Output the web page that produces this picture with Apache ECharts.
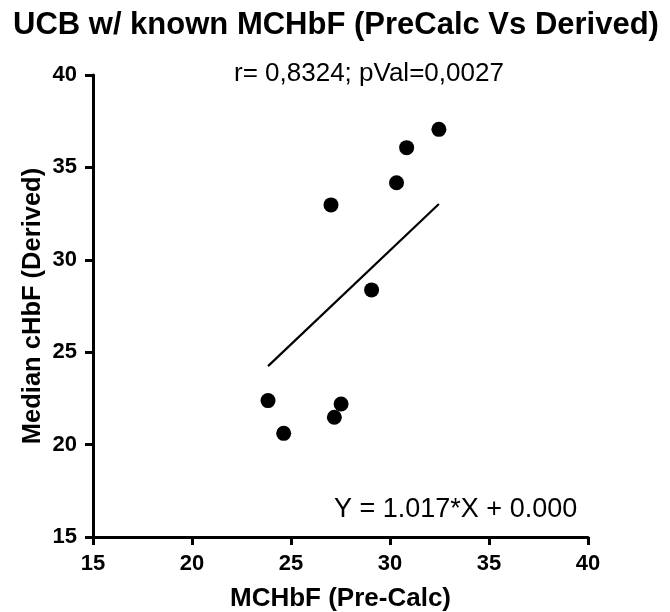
<!DOCTYPE html>
<html>
<head>
<meta charset="utf-8">
<script src="https://cdn.jsdelivr.net/npm/echarts@6/dist/echarts.min.js"></script>
<style>html,body{margin:0;padding:0;background:#fff}#c{width:670px;height:612px}</style>
</head>
<body>
<div id="c"></div>
<script>
const preCalc = [32.47, 30.84, 30.33, 27.02, 29.07, 23.84, 27.53, 27.19, 24.63];
const derived = [37.06, 36.07, 34.17, 32.97, 28.37, 22.38, 22.20, 21.48, 20.61];
const slope = 1.017;
const intercept = 0.0;
const axisTicks = [15, 20, 25, 30, 35, 40];
const titleText = 'UCB w/ known MCHbF (PreCalc Vs Derived)';
const statsText = 'r= 0,8324; pVal=0,0027';
const eqText = 'Y = 1.017*X + 0.000';
const xName = 'MCHbF (Pre-Calc)';
const yName = 'Median cHbF (Derived)';

const pts = preCalc.map((x, i) => [x, derived[i]]);
const xMin = Math.min(...preCalc), xMax = Math.max(...preCalc);
const fitLine = [[xMin, slope * xMin + intercept], [xMax, slope * xMax + intercept]];

const FONT = '"Liberation Sans", Arial, sans-serif';
const chart = echarts.init(document.getElementById('c'), null, {renderer: 'canvas'});
const axisCommon = {
  type: 'value', min: axisTicks[0], max: axisTicks[axisTicks.length - 1], interval: 5,
  splitLine: {show: false},
  axisLine: {show: true, onZero: false, lineStyle: {color: '#000', width: 3}},
  axisTick: {show: true, length: 8, lineStyle: {color: '#000', width: 3}},
  axisLabel: {color: '#000', fontWeight: 'bold', fontSize: 22, fontFamily: FONT},
  nameLocation: 'middle',
  nameMoveOverlap: false,
  nameTextStyle: {color: '#000', fontWeight: 'bold', fontSize: 26, fontFamily: FONT}
};
chart.setOption({
  animation: false,
  backgroundColor: '#fff',
  title: {
    text: titleText, left: 13, top: 10, padding: 0,
    textStyle: {color: '#000', fontWeight: 'bold', fontSize: 31, fontFamily: FONT}
  },
  grid: {left: 93, right: 82, top: 75, bottom: 75, containLabel: false, outerBoundsMode: 'none'},
  xAxis: Object.assign({}, axisCommon, {
    name: xName, nameGap: 49,
    axisLabel: Object.assign({}, axisCommon.axisLabel, {margin: 16})
  }),
  yAxis: Object.assign({}, axisCommon, {
    name: yName, nameGap: 47,
    nameTextStyle: Object.assign({}, axisCommon.nameTextStyle, {fontSize: 25.5}),
    axisLabel: Object.assign({}, axisCommon.axisLabel, {margin: 16})
  }),
  graphic: [
    {type: 'text', left: 234, top: 61, style: {text: statsText, fill: '#000', fontSize: 26, fontFamily: FONT}},
    {type: 'text', left: 334, top: 496, style: {text: eqText, fill: '#000', fontSize: 27, fontFamily: FONT}}
  ],
  series: [
    {
      type: 'line', data: fitLine, symbol: 'none', silent: true,
      lineStyle: {color: '#000', width: 2.2}, z: 2
    },
    {
      type: 'scatter', data: pts, symbol: 'circle', symbolSize: 15,
      itemStyle: {color: '#000', opacity: 1}, z: 3
    }
  ]
});
</script>
</body>
</html>
